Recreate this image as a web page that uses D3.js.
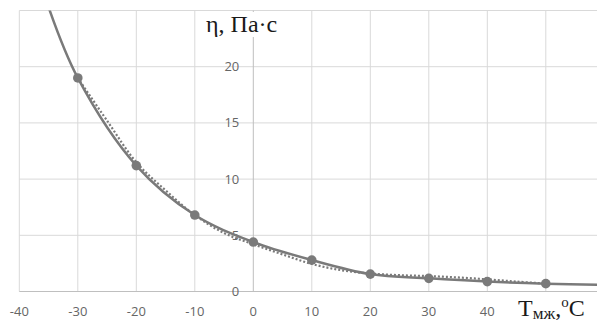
<!DOCTYPE html>
<html>
<head>
<meta charset="utf-8">
<script src="https://cdn.jsdelivr.net/npm/d3@7"></script>
<style>
  body { margin: 0; background: #fff; }
</style>
</head>
<body>
<script>
// measured points (markers)
const temps = [-30, -20, -10, 0, 10, 20, 30, 40, 50];
const visc = [19.0, 11.2, 6.8, 4.4, 2.8, 1.55, 1.17, 0.88, 0.7];
// smoothed curve, with the ends running off the plot
const curveT = [-35, -30, -20, -10, 0, 10, 20, 30, 40, 50, 60];
const curveV = [25.3, 19.0, 11.2, 6.8, 4.4, 2.8, 1.55, 1.17, 0.88, 0.7, 0.6];
// dotted trend line
const trendT = [-30, -25, -20, -15, -10, -5, 0, 5, 10, 15, 20, 25, 30, 35, 40, 45, 50];
const trendV = [19.0, 15.2, 11.5, 9.0, 6.8, 5.2, 4.2, 3.3, 2.45, 1.9, 1.6, 1.45, 1.37, 1.25, 1.08, 0.88, 0.7];
// the 50 label sits under the axis title in the original
const xTicks = [-40, -30, -20, -10, 0, 10, 20, 30, 40];
const yTicks = [0, 5, 10, 15, 20];

const width = 597, height = 322;
const svg = d3.select("body").append("svg")
    .attr("width", width).attr("height", height);

const x = d3.scaleLinear().domain([-40, 60]).range([19.3, 604.3]);
const y = d3.scaleLinear().domain([0, 25]).range([291.5, 10.5]);

const grid = svg.append("g").attr("stroke", "#d9d9d9").attr("stroke-width", 1);
grid.selectAll("line.v")
    .data(d3.range(-40, 61, 10).filter(d => d != 0))
    .enter().append("line")
    .attr("x1", d => x(d)).attr("x2", d => x(d))
    .attr("y1", y(0)).attr("y2", y(25));
grid.selectAll("line.h")
    .data([5, 10, 15, 20, 25])
    .enter().append("line")
    .attr("x1", x(-40)).attr("x2", width)
    .attr("y1", d => y(d)).attr("y2", d => y(d));

// axes
svg.append("line")
    .attr("x1", x(-40)).attr("x2", width)
    .attr("y1", y(0)).attr("y2", y(0))
    .attr("stroke", "#bfbfbf");
svg.append("line")
    .attr("x1", x(0)).attr("x2", x(0))
    .attr("y1", y(0)).attr("y2", y(25))
    .attr("stroke", "#bfbfbf");

svg.append("g").selectAll("text")
    .data(xTicks).enter().append("text")
    .attr("x", d => x(d)).attr("y", 316)
    .attr("text-anchor", "middle")
    .style("font", "13px 'Open Sans'").style("fill", "#666")
    .text(d => d);

svg.append("g").selectAll("text")
    .data(yTicks).enter().append("text")
    .attr("x", x(0) - 14).attr("y", d => y(d))
    .attr("dy", "0.35em")
    .attr("text-anchor", "end")
    .style("font", "13px 'Open Sans'").style("fill", "#666")
    .text(d => d);

svg.append("clipPath").attr("id", "plot")
    .append("rect")
    .attr("x", x(-40)).attr("y", y(25))
    .attr("width", width - x(-40)).attr("height", y(0) - y(25));

const col = "#7a7a7a";
svg.append("path")
    .datum(trendT.map((t, i) => [t, trendV[i]]))
    .attr("clip-path", "url(#plot)")
    .attr("fill", "none").attr("stroke", col)
    .attr("stroke-width", 2.2).attr("stroke-dasharray", "2,2")
    .attr("d", d3.line().x(d => x(d[0])).y(d => y(d[1])).curve(d3.curveCatmullRom));

svg.append("path")
    .datum(curveT.map((t, i) => [t, curveV[i]]))
    .attr("clip-path", "url(#plot)")
    .attr("fill", "none").attr("stroke", col)
    .attr("stroke-width", 2.5)
    .attr("d", d3.line().x(d => x(d[0])).y(d => y(d[1])).curve(d3.curveCatmullRom));

svg.append("g").selectAll("circle")
    .data(temps).enter().append("circle")
    .attr("cx", d => x(d)).attr("cy", (d, i) => y(visc[i]))
    .attr("r", 4.8).attr("fill", col);

// axis titles with white backing
svg.append("rect").attr("x", 201).attr("y", 12).attr("width", 90).attr("height", 25).attr("fill", "#fff");
svg.append("text")
    .attr("x", 206).attr("y", 32)
    .style("font", "24px 'Liberation Serif'").style("fill", "#1a1a1a")
    .text("η, Па·с");

svg.append("rect").attr("x", 510).attr("y", 297).attr("width", 87).attr("height", 25).attr("fill", "#fff");
const xt = svg.append("text")
    .attr("x", 518).attr("y", 316)
    .style("font-family", "'Liberation Serif'").style("fill", "#1a1a1a");
xt.append("tspan").style("font-size", "24px").text("T");
xt.append("tspan").style("font-size", "17px").attr("dy", 3).text("мж");
xt.append("tspan").style("font-size", "24px").attr("dy", -3).text(",");
xt.append("tspan").style("font-size", "15px").attr("dy", -9).text("o");
xt.append("tspan").style("font-size", "24px").attr("dy", 9).text("C");
</script>
</body>
</html>
